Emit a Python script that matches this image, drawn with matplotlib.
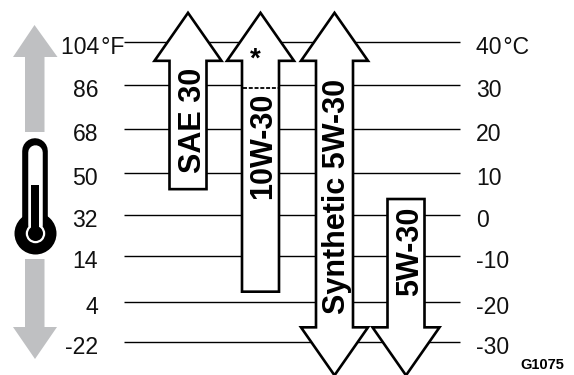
import matplotlib
matplotlib.use("Agg")
import matplotlib.pyplot as plt
from matplotlib.patches import Polygon

plt.rcParams['font.family'] = ['Liberation Sans', 'DejaVu Sans']

# temperature lines in deg C
line_temps = [40, 30, 19.7, 9.4, -0.3, -9.8, -20.5, -30]
f_labels = ['104\u200a°F', '86', '68', '50', '32', '14', '4', '-22']
c_labels = ['40\u200a°C', '30', '20', '10', '0', '-10', '-20', '-30']

# oil ranges in deg C (low, high), arrow ends run past the chart
oils = ['SAE 30', '10W-30', 'Synthetic 5W-30', '5W-30']
oil_low = [5.7, -18.2, -37.7, -37.7]
oil_high = [46.8, 46.8, 46.8, 3.4]
oil_center = [188, 260.5, 334.5, 406]
oil_up = [True, True, True, False]
oil_down = [False, False, True, True]
dash_temp = 29.2


def temp_y(px):
    # pixel row to deg C
    return 40 - (px - 42) / 4.29


def oil_arrow(ax, xc, low, high, up, down):
    half = 18.5
    head = 33.5
    headlen = 48 / 4.29
    pts = []
    if up:
        pts += [(xc - half, high - headlen), (xc - head, high - headlen), (xc, high),
                (xc + head, high - headlen), (xc + half, high - headlen)]
    else:
        pts += [(xc - half, high), (xc + half, high)]
    if down:
        pts += [(xc + half, low + headlen), (xc + head, low + headlen), (xc, low),
                (xc - head, low + headlen), (xc - half, low + headlen)]
    else:
        pts += [(xc + half, low), (xc - half, low)]
    ax.add_patch(Polygon(pts, closed=True, fc='white', ec='black', lw=1.9, joinstyle='miter', zorder=3))


fig = plt.figure(figsize=(5.74, 3.75), dpi=100)
ax = fig.add_axes([0, 0, 1, 1])
ax.set_xlim(0, 574)
ax.set_ylim(temp_y(375), temp_y(0))
ax.axis('off')

tick_size = 16.6
for t, fl, cl in zip(line_temps, f_labels, c_labels):
    ax.plot([124, 460], [t, t], color='black', lw=1.0, zorder=1, solid_capstyle='butt')
    ax.text(476, t - 1.3, cl, ha='left', va='center', fontsize=tick_size, color='#111111', zorder=2)
    if '°' in fl:
        ax.text(61, t - 1.3, fl, ha='left', va='center', fontsize=tick_size, color='#111111', zorder=2)
    else:
        ax.text(98, t - 1.3, fl, ha='right', va='center', fontsize=tick_size, color='#111111', zorder=2)

for name, xc, lo, hi, up, dn in zip(oils, oil_center, oil_low, oil_high, oil_up, oil_down):
    oil_arrow(ax, xc, lo, hi, up, dn)

# dashed limit and star on the 10W-30 arrow
ax.plot([243, 278], [dash_temp, dash_temp], color='black', lw=1.3, ls=(0, (2.2, 1)), zorder=4)
ax.text(255.5, temp_y(60), '*', ha='center', va='center', fontsize=20, fontweight='bold', zorder=4)

label_size = 22
label_rows = [120, 146, 196, 251]
label_cols = [193, 263, 337, 410]
for name, col, row in zip(oils, label_cols, label_rows):
    ax.text(col, temp_y(row), name, rotation=90, ha='center', va='center', fontsize=label_size,
            fontweight='bold', zorder=5)

ax.text(520, temp_y(365), 'G1075', ha='left', va='center', fontsize=10.5, fontweight='bold')

# grey arrows beside the thermometer
grey = '#bfc0c2'
ax.add_patch(Polygon([(25, temp_y(132)), (25, temp_y(57)), (13, temp_y(57)), (34.5, temp_y(25)),
                      (57.5, temp_y(57)), (44.5, temp_y(57)), (44.5, temp_y(132))], fc=grey, ec='none'))
ax.add_patch(Polygon([(25, temp_y(259)), (25, temp_y(327)), (13, temp_y(327)), (35, temp_y(359)),
                      (57, temp_y(327)), (44.5, temp_y(327)), (44.5, temp_y(259))], fc=grey, ec='none'))

# thermometer, drawn with thick round lines and dots (72/100 turns px into pt)
px = 0.72
ax.plot([34.5, 34.5], [temp_y(151), temp_y(233)], color='black', lw=25.6 * px, solid_capstyle='round')
ax.plot([35], [temp_y(233)], 'o', color='black', ms=42 * px, mew=0)
ax.plot([34.5, 34.5], [temp_y(152), temp_y(225)], color='white', lw=14.5 * px, solid_capstyle='round')
ax.plot([35], [temp_y(233)], 'o', color='white', ms=19.5 * px, mew=0)
ax.plot([35], [temp_y(233)], 'o', color='black', ms=15 * px, mew=0)
ax.plot([35, 35], [temp_y(185), temp_y(233)], color='black', lw=8 * px, solid_capstyle='butt')

fig.savefig('out.png', dpi=100)
